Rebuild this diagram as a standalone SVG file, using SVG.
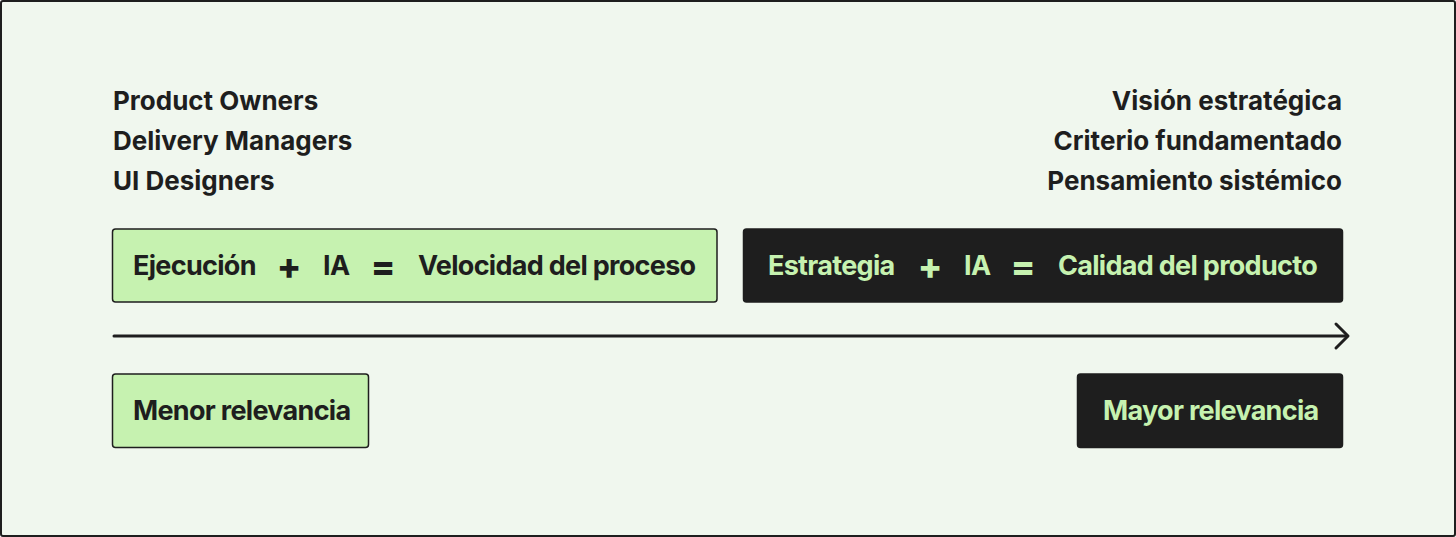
<svg xmlns="http://www.w3.org/2000/svg" width="1456" height="537" viewBox="0 0 1456 537">
<defs>
<style>
.bg{fill:#f0f7ee;stroke:#1e1e1e;stroke-width:2}
.lbl{font-family:Inter,"Liberation Sans",sans-serif;font-weight:700;font-size:26px;fill:#1e1e1e}
.r{text-anchor:end}
.green{fill:#c6f2b0;stroke:#1e1e1e;stroke-width:1.5}
.dark{fill:#1e1e1e;stroke:#1e1e1e;stroke-width:1.5}
.bt{font-family:Inter,"Liberation Sans",sans-serif;font-weight:700;font-size:27px;letter-spacing:-0.7px}
.op{font-family:Inter,"Liberation Sans",sans-serif;font-weight:800;font-size:36px;text-anchor:middle}
.tdark{fill:#1e1e1e}
.tgreen{fill:#c6f2b0}
.axis{stroke:#1e1e1e;stroke-width:3;fill:none;stroke-linecap:round;stroke-linejoin:round}
</style>
</defs>
<rect class="bg" x="1" y="1" width="1454" height="535" rx="2"/>
<g id="left-labels">
<text class="lbl" x="113" y="110">Product Owners</text>
<text class="lbl" x="113" y="150">Delivery Managers</text>
<text class="lbl" x="113" y="190">UI Designers</text>
</g>
<g id="right-labels">
<text class="lbl r" x="1342" y="110">Visión estratégica</text>
<text class="lbl r" x="1342" y="150">Criterio fundamentado</text>
<text class="lbl r" x="1342" y="190">Pensamiento sistémico</text>
</g>
<g id="node-ejecucion">
<rect class="green" x="112.5" y="229" width="604.5" height="73" rx="3"/>
<text class="bt tdark" x="133" y="275">Ejecución</text>
<text class="op tdark" x="289" y="279">+</text>
<text class="bt tdark" x="323" y="275">IA</text>
<text class="op tdark" x="383" y="279">=</text>
<text class="bt tdark" x="418" y="275">Velocidad del proceso</text>
</g>
<g id="node-estrategia">
<rect class="dark" x="743.5" y="229" width="599" height="73" rx="3"/>
<text class="bt tgreen" x="768" y="275">Estrategia</text>
<text class="op tgreen" x="930" y="279">+</text>
<text class="bt tgreen" x="964" y="275">IA</text>
<text class="op tgreen" x="1023" y="279">=</text>
<text class="bt tgreen" x="1058" y="275">Calidad del producto</text>
</g>
<g id="connectors">
<path class="axis" d="M114 336 H1347"/>
<path class="axis" d="M1336 324 L1348 336 L1336 348"/>
</g>
<g id="node-menor">
<rect class="green" x="112.5" y="374" width="256" height="73.5" rx="3"/>
<text class="bt tdark" x="133" y="420">Menor relevancia</text>
</g>
<g id="node-mayor">
<rect class="dark" x="1077.5" y="374" width="265" height="73.5" rx="3"/>
<text class="bt tgreen" x="1103" y="420">Mayor relevancia</text>
</g>
</svg>
